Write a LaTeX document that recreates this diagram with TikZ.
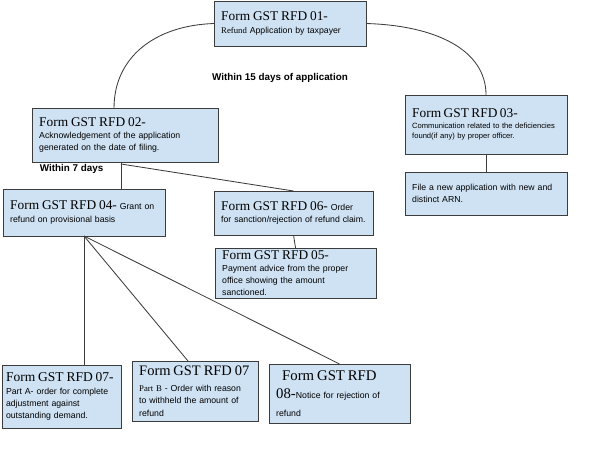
\documentclass[tikz,border=0pt]{standalone}
\usepackage{fontspec}
\setmainfont{Liberation Serif}
\setsansfont{Liberation Sans}
\definecolor{formfill}{RGB}{207,226,243}
\definecolor{formline}{RGB}{60,60,60}
\newcommand{\gsttitle}[2][9.5]{{\rmfamily\fontsize{#1}{11}\selectfont #2}}

\begin{document}
\begin{tikzpicture}[x=0.025cm, y=-0.025cm,
    formbox/.style={draw=formline, fill=formfill, line width=0.7pt, anchor=north west,
      inner xsep=0.18cm, inner ysep=0pt, outer sep=0pt, align=left,
      font=\sffamily\fontsize{6.2}{8.6}\selectfont},
    daylabel/.style={font=\sffamily\bfseries\fontsize{7}{8}\selectfont},
    link/.style={draw=formline, line width=0.6pt}]
      \useasboundingbox (0,0) rectangle (602,451);

      % top of the chart
      \node[formbox, text width=3.44cm, minimum height=1.125cm] (rfd01) at (214,1)
        {\gsttitle{Form GST RFD 01-}\\{\rmfamily Refund} Application by taxpayer};
      \node[formbox, text width=4.29cm, minimum height=1.35cm] (rfd02) at (32,108)
        {\gsttitle{Form GST RFD 02-}\\Acknowledgement of the application\\generated on the date of filing.};
      \node[formbox, text width=3.69cm, minimum height=1.475cm,
        font=\sffamily\fontsize{5.4}{7}\selectfont] (rfd03) at (405,95)
        {\gsttitle{Form GST RFD 03-}\\[1pt]Communication related to the deficiencies\\found(if any) by proper officer.};
      \node[formbox, text width=3.69cm, minimum height=1.075cm] (newarn) at (405,172)
        {File a new application with new and\\distinct ARN.};

      \node[daylabel] (within15) at (280,78) {Within 15 days of application};
      \node[daylabel, anchor=west] (within7) at (35,169) {Within 7 days};

      % middle row
      \node[formbox, text width=3.69cm, minimum height=1.175cm] (rfd04) at (3,189)
        {\gsttitle{Form GST RFD 04-} Grant on\\refund on provisional basis};
      \node[formbox, text width=3.615cm, minimum height=1.1cm] (rfd06) at (214,191)
        {\gsttitle{Form GST RFD 06-} Order\\for sanction/rejection of refund claim.};
      \node[formbox, text width=3.665cm, minimum height=1.25cm] (rfd05) at (215,248)
        {\gsttitle{Form GST RFD 05-}\\Payment advice from the proper\\office showing the amount\\sanctioned.};

      % bottom row
      \node[formbox, text width=2.775cm, inner xsep=0.1cm, minimum height=1.575cm] (rfd07a) at (2,365)
        {\gsttitle[9.6]{Form GST RFD 07-}\\Part A- order for complete\\adjustment against\\outstanding demand.};
      \node[formbox, text width=2.79cm, minimum height=1.5cm] (rfd07b) at (132,361)
        {\gsttitle[10.3]{Form GST RFD 07}\\[3pt]{\rmfamily Part B} - Order with reason\\to withheld the amount of\\refund};
      \node[formbox, text width=3.165cm, minimum height=1.475cm] (rfd08) at (269,364)
        {\hspace*{0.15cm}\gsttitle[10.5]{Form GST RFD}\\[4pt]\gsttitle[10.5]{08-}Notice for rejection of\\[4pt]refund};

      \coordinate (split7) at (121,164);

      \draw[link] (rfd01.west) .. controls +(-60,2) and +(0,-50) .. ([xshift=-0.275cm]rfd02.north);
      \draw[link] (rfd01.east) .. controls +(70,2) and +(0,-45) .. (rfd03.north);
      \draw[link] (rfd03.south) -- (newarn.north);

      \draw[link] (rfd02.south -| split7) -- (rfd04.north -| split7);
      \draw[link] (split7) -- (rfd06.north);
      \draw[link] (rfd06.south) -- (rfd05.north);

      \draw[link] (rfd04.south) -- (rfd07a.north -| rfd04.south);
      \draw[link] (rfd04.south) -- ([xshift=-0.175cm]rfd07b.north);
      \draw[link] (rfd04.south) -- (rfd08.north);
      \end{tikzpicture}
\end{document}
